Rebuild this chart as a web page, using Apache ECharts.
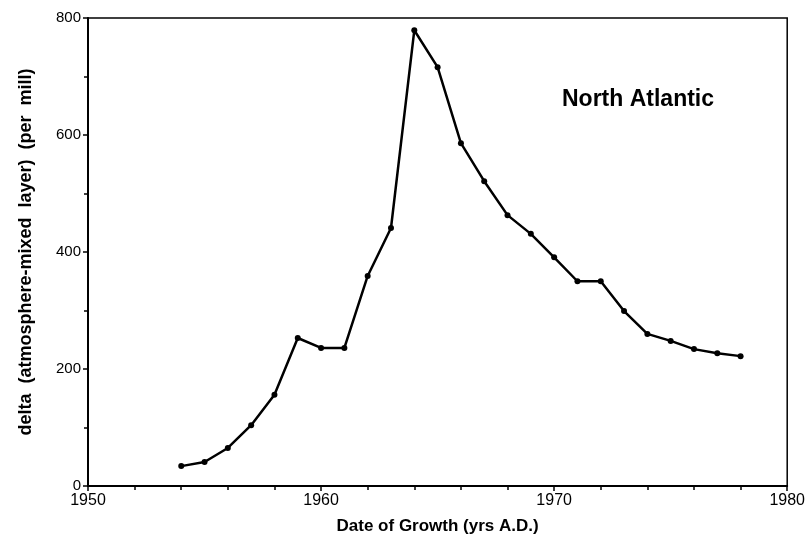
<!DOCTYPE html>
<html>
<head>
<meta charset="utf-8">
<script src="https://cdn.jsdelivr.net/npm/echarts@6/dist/echarts.min.js"></script>
<style>
    html, body {margin: 0; padding: 0; background: #fff;}
    #chart {width: 808px; height: 541px;}
</style>
</head>
<body>
<div id="chart"></div>
<script>
// years of growth and delta values
const years = [1954, 1955, 1956, 1957, 1958, 1959, 1960, 1961, 1962, 1963, 1964, 1965,
    1966, 1967, 1968, 1969, 1970, 1971, 1972, 1973, 1974, 1975, 1976, 1977, 1978];
const delta = [34, 41, 65, 104, 156, 253, 236, 236, 359, 441, 779, 716,
    586, 521, 463, 431, 391, 350, 350, 299, 260, 248, 234, 227, 222];
const regionLabel = 'North Atlantic';

const font = '"Liberation Sans", Arial, sans-serif';

const myChart = echarts.init(document.getElementById('chart'), null, {renderer: 'canvas'});

myChart.setOption({
    animation: false,
    backgroundColor: '#fff',
    grid: {
        left: 88, right: 18, top: 18, bottom: 55,
        show: true, borderColor: '#000', borderWidth: 1.5,
    },
    title: {
        text: regionLabel,
        left: 557, top: 83,
        textStyle: {fontFamily: font, fontSize: 23, fontWeight: 'bold', color: '#000'},
    },
    xAxis: {
        type: 'value',
        min: 1950, max: 1980, interval: 10,
        name: 'Date of Growth (yrs A.D.)',
        nameLocation: 'middle',
        nameGap: 32,
        nameTextStyle: {fontFamily: font, fontSize: 17, fontWeight: 'bold', color: '#000'},
        axisLine: {lineStyle: {color: '#000', width: 2}},
        axisTick: {inside: false, length: 5, lineStyle: {color: '#000', width: 1.5}},
        minorTick: {show: true, splitNumber: 5, length: 4, lineStyle: {color: '#000', width: 1.5}},
        axisLabel: {fontFamily: font, fontSize: 16, color: '#000', margin: 7, formatter: (v) => String(v)},
        splitLine: {show: false},
    },
    yAxis: {
        type: 'value',
        min: 0, max: 800, interval: 200,
        name: 'delta  (atmosphere-mixed  layer)  (per  mill)',
        nameLocation: 'middle',
        nameGap: 53,
        nameTextStyle: {fontFamily: font, fontSize: 18, fontWeight: 'bold', color: '#000'},
        axisLine: {lineStyle: {color: '#000', width: 2}},
        axisTick: {inside: false, length: 5, lineStyle: {color: '#000', width: 1.5}},
        minorTick: {show: true, splitNumber: 2, length: 4, lineStyle: {color: '#000', width: 1.5}},
        axisLabel: {fontFamily: font, fontSize: 15, color: '#000', margin: 7, formatter: (v) => String(v)},
        splitLine: {show: false},
    },
    series: [{
        type: 'line',
        data: years.map((y, i) => [y, delta[i]]),
        symbol: 'circle',
        symbolSize: 6,
        lineStyle: {color: '#000', width: 2.5},
        itemStyle: {color: '#000'},
    }],
});
</script>
</body>
</html>
